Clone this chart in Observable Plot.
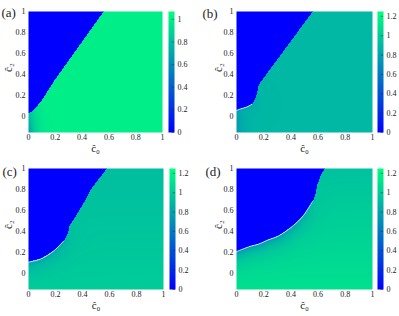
<!DOCTYPE html>
<html><head><meta charset="utf-8">
<script src="https://cdn.jsdelivr.net/npm/d3@7"></script>
<script src="https://cdn.jsdelivr.net/npm/@observablehq/plot@0.6"></script>
<style>
body{margin:0;background:#fff;}
#root{position:relative;width:399px;height:316px;overflow:hidden;font-family:"Liberation Serif","Times New Roman","DejaVu Serif",serif;}
#root > div{position:absolute;}
svg{overflow:visible;}
#root svg, #root svg text, #root svg g{font-family:"Liberation Serif","Times New Roman","DejaVu Serif",serif !important;}
</style></head><body><div id="root"></div>
<script>
// ---- data ----
const panelLabels = ["(a)", "(b)", "(c)", "(d)"];
const xTicks = [0, 0.2, 0.4, 0.6, 0.8, 1];
const yTicks = [0, 0.2, 0.4, 0.6, 0.8, 1];
const colorTicksA = [0, 0.2, 0.4, 0.6, 0.8, 1];
const colorTicksBCD = [0, 0.2, 0.4, 0.6, 0.8, 1, 1.2];
const colorMax = [1.07, 1.25, 1.25, 1.25];
const plateauBottom = [1.0, 0.9, 1.0, 1.1];
const plateauTop = [1.0, 0.9, 0.93, 0.95];
const shadeWidth = [0.06, 0.06, 0.07, 0.08];
const whiteLineMaxX = [0, 0.12, 0.27, 0.56];

// boundary of the blue (zero) region: x at given y, and shading strength next to it
const edgeXa = [0, 0, 0.015, 0.05, 0.095, 0.19, 0.56];
const edgeYa = [-0.15, 0.03, 0.04, 0.08, 0.15, 0.34, 1.0];
const shadeA = [0.35, 0.2, 0.1, 0.03, 0, 0, 0];

const edgeXb = [0, 0, 0.02, 0.08, 0.115, 0.14, 0.16, 0.56];
const edgeYb = [-0.15, 0.06, 0.07, 0.095, 0.12, 0.18, 0.30, 1.0];
const shadeB = [0.15, 0.12, 0.1, 0.08, 0.05, 0.02, 0, 0];

const edgeXc = [0, 0.09, 0.19, 0.26, 0.29, 0.30, 0.37, 0.42, 0.46, 0.52, 0.58];
const edgeYc = [0.11, 0.14, 0.22, 0.31, 0.38, 0.45, 0.59, 0.70, 0.80, 0.90, 1.0];
const shadeC = [0.2, 0.18, 0.16, 0.1, 0.04, 0, 0, 0, 0, 0, 0];

const edgeXd = [0, 0.10, 0.16, 0.23, 0.31, 0.42, 0.49, 0.56, 0.58, 0.59, 0.62, 0.65];
const edgeYd = [0.21, 0.26, 0.28, 0.32, 0.36, 0.46, 0.55, 0.69, 0.76, 0.84, 0.94, 1.0];
const shadeD = [0.3, 0.3, 0.3, 0.3, 0.27, 0.22, 0.15, 0.04, 0, 0, 0, 0];

// ---- helpers ----
const edgesX = [edgeXa, edgeXb, edgeXc, edgeXd];
const edgesY = [edgeYa, edgeYb, edgeYc, edgeYd];
const shades = [shadeA, shadeB, shadeC, shadeD];
const Y0 = -0.15, Y1 = 1;
const fmt = d3.format("~g");

const winter = t => {
  t = Math.max(0, Math.min(1, t));
  return `rgb(0,${Math.round(255 * t)},${Math.round(255 * (1 - t / 2))})`;
};

function edgeX(bx, by, y) {
  if (y < by[0]) return -Infinity;
  for (let k = 0; k < by.length - 1; k++) {
    if (y <= by[k + 1]) {
      const t = by[k + 1] === by[k] ? 1 : (y - by[k]) / (by[k + 1] - by[k]);
      return bx[k] + t * (bx[k + 1] - bx[k]);
    }
  }
  return bx[bx.length - 1];
}
function shadeAt(bx, by, bw, len, x, y) {
  const sx = 1.28; let m = 0;
  for (let k = 0; k < bx.length - 1; k++) {
    const ax = bx[k] * sx, ay = by[k], vx = bx[k + 1] * sx - ax, vy = by[k + 1] - ay;
    const px = x * sx, py = y, L2 = vx * vx + vy * vy;
    let t = L2 ? ((px - ax) * vx + (py - ay) * vy) / L2 : 0;
    t = Math.max(0, Math.min(1, t));
    const d = Math.hypot(px - ax - t * vx, py - ay - t * vy);
    const w = bw[k] + t * (bw[k + 1] - bw[k]);
    m = Math.max(m, w * Math.exp(-d / len));
  }
  return m;
}

const layout = [
  {left: 0, top: 0, ml: 28, pw: 134, mb: 28, cbLeft: 160, cbMr: 25, lab: [-27, 1.5], ylx: -20},
  {left: 200, top: 0, ml: 36, pw: 136, mb: 28, cbLeft: 369, cbMr: 16, lab: [-34, 2], ylx: -18},
  {left: 0, top: 157, ml: 28, pw: 135, mb: 27, cbLeft: 161, cbMr: 25, lab: [-26, 3], ylx: -20},
  {left: 200, top: 157, ml: 36, pw: 136, mb: 27, cbLeft: 369, cbMr: 16, lab: [-31, 3], ylx: -18}
];
const MT = 11, PH = 121, FONT = '"Liberation Serif", "Times New Roman", "DejaVu Serif", serif';
const root = document.getElementById("root");

function place(el, left, top) {
  const d = document.createElement("div");
  d.style.left = left + "px"; d.style.top = top + "px";
  d.appendChild(el); root.appendChild(d);
}

for (let i = 0; i < 4; i++) {
  const L = layout[i];
  const bx = edgesX[i], by = edgesY[i], bw = shades[i];
  const value = (x, y) => {
    if (x < edgeX(bx, by, y)) return 0;
    const p = plateauBottom[i] + (plateauTop[i] - plateauBottom[i]) * (y - Y0) / (Y1 - Y0);
    return p - shadeAt(bx, by, bw, shadeWidth[i], x, y);
  };
  const white = bx.map((x, k) => ({x, y: by[k]}))
    .filter(d => d.y > Y0 && d.x <= whiteLineMaxX[i] && whiteLineMaxX[i] > 0);
  const colorOpts = {type: "linear", domain: [0, colorMax[i]], interpolate: winter};
  const H = MT + PH + L.mb;

  const main = Plot.plot({
    width: L.ml + L.pw + 3, height: H,
    marginLeft: L.ml, marginRight: 3, marginTop: MT, marginBottom: L.mb,
    style: {fontFamily: FONT, fontSize: "8px", background: "transparent", color: "#222"},
    x: {domain: [0, 1]},
    y: {domain: [Y0, Y1]},
    color: colorOpts,
    marks: [
      Plot.raster({fill: value, x1: 0, x2: 1, y1: Y0, y2: Y1, width: L.pw, height: PH, imageRendering: "pixelated"}),
      Plot.line(white, {x: "x", y: "y", stroke: "white", strokeWidth: 0.9, strokeOpacity: 0.85, curve: "catmull-rom"}),
      Plot.axisX(xTicks, {tickSize: 0, tickPadding: 2, label: null, tickFormat: fmt, fontFamily: FONT}),
      Plot.axisY(yTicks, {tickSize: 0, tickPadding: 3, label: null, tickFormat: fmt, fontFamily: FONT}),
      Plot.text(["ĉ₀"], {frameAnchor: "bottom", dy: 16, text: d => d, fontSize: 11, lineAnchor: "middle", fontFamily: FONT}),
      Plot.text(["ĉ₂"], {frameAnchor: "left", dx: L.ylx, rotate: -90, text: d => d, fontSize: 11, lineAnchor: "middle", fontFamily: FONT}),
      Plot.text([panelLabels[i]], {frameAnchor: "top-left", dx: L.lab[0], dy: L.lab[1], text: d => d, fontSize: 13, textAnchor: "start", lineAnchor: "middle", fontFamily: FONT})
    ]
  });
  place(main, L.left, L.top);

  const cbTicks = i === 0 ? colorTicksA : colorTicksBCD;
  const cb = Plot.plot({
    width: 8 + 6 + L.cbMr, height: H,
    marginLeft: 8, marginRight: L.cbMr, marginTop: MT, marginBottom: L.mb,
    style: {fontFamily: FONT, fontSize: "8px", background: "transparent", color: "#222"},
    x: {domain: [0, 1], axis: null},
    y: {domain: [0, colorMax[i]]},
    color: colorOpts,
    marks: [
      Plot.raster({fill: (x, y) => y, x1: 0, x2: 1, y1: 0, y2: colorMax[i], width: 1, height: PH}),
      Plot.ruleY(cbTicks, {y: d => d, x1: 0.6, x2: 1, stroke: "#123", strokeOpacity: 0.6, strokeWidth: 0.8}),
      Plot.axisY(cbTicks, {anchor: "right", tickSize: 0, tickPadding: 3, label: null, tickFormat: fmt, fontFamily: FONT})
    ]
  });
  place(cb, L.cbLeft, L.top);
}
</script>
</body></html>
